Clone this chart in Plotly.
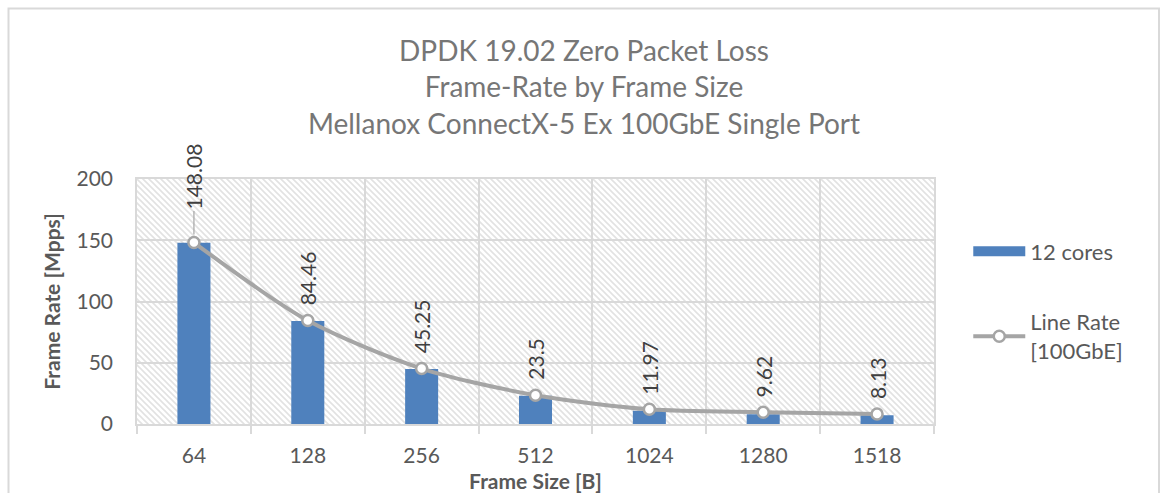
import base64
import plotly.graph_objects as go

# ---- data ----
frame_sizes = ["64", "128", "256", "512", "1024", "1280", "1518"]
cores12 = [148.0, 84.1, 44.9, 23.0, 10.9, 8.0, 7.2]
line_rate = [148.08, 84.46, 45.25, 23.5, 11.97, 9.62, 8.13]
y_ticks = [0, 50, 100, 150, 200]

title_lines = ["DPDK 19.02 Zero Packet Loss", "Frame-Rate by Frame Size",
               "Mellanox ConnectX-5 Ex 100GbE Single Port"]

FONT = "Lato"
W, H = 1160, 493
ML, MR, MT, MB = 137, 226, 179, 69
PW, PH = W - ML - MR, H - MT - MB
BLUE, GREY = "#4F81BD", "#A5A5A5"

# hatched plot-area background (svg pattern)
svg = (f'<svg xmlns="http://www.w3.org/2000/svg" width="{PW}" height="{PH}">'
       '<defs><pattern id="p" width="6" height="6" patternUnits="userSpaceOnUse">'
       '<path d="M-1,-1 L7,7 M-7,-1 L1,7 M5,-1 L13,7" stroke="#e2e2e2" stroke-width="1.6"/>'
       '</pattern></defs>'
       f'<rect width="{PW}" height="{PH}" fill="white"/>'
       f'<rect width="{PW}" height="{PH}" fill="url(#p)"/></svg>')
svg_src = "data:image/svg+xml;base64," + base64.b64encode(svg.encode()).decode()

fig = go.Figure()
fig.add_trace(go.Bar(
    x=frame_sizes, y=cores12, name="12 cores", width=0.29,
    marker=dict(color=BLUE, line=dict(width=0)),
    legendgroup="a", showlegend=False,
))
# legend proxy so the "12 cores" key is drawn as a wide block like the original
fig.add_trace(go.Scatter(
    x=[None], y=[None], name="12 cores", mode="lines",
    line=dict(color=BLUE, width=14), legendgroup="a", showlegend=True,
))
fig.add_trace(go.Scatter(
    x=frame_sizes, y=line_rate, name="Line Rate<br>[100GbE]",
    mode="lines+markers",
    line=dict(color=GREY, width=4, shape="spline", smoothing=0.8),
    marker=dict(size=11, color="white", line=dict(color=GREY, width=2.5)),
    legendgroup="b",
))

LBL = dict(family=FONT, size=21, color="#404040")
annotations = []
for i, v in enumerate(line_rate):
    txt = f"{v:g}"
    if i == 0:
        annotations.append(dict(
            x=i, y=v, text=txt, textangle=-90, showarrow=True,
            ax=0, ay=-66, arrowhead=0, arrowwidth=1.2, arrowcolor="#A6A6A6",
            standoff=8, font=LBL))
    else:
        annotations.append(dict(
            x=i, y=v, text=txt, textangle=-90, showarrow=False,
            xanchor="center", yanchor="bottom", yshift=13, font=LBL))

fig.update_layout(
    width=W, height=H, autosize=False,
    margin=dict(l=ML, r=MR, t=MT, b=MB),
    paper_bgcolor="white", plot_bgcolor="rgba(0,0,0,0)",
    font=dict(family=FONT, color="#595959"),
    title=dict(text="<br>".join(title_lines), x=584 / W, xanchor="center",
               xref="container", yref="container", y=1 - 61 / H, yanchor="top",
               font=dict(family=FONT, size=28, color="#767676")),
    showlegend=True,
    legend=dict(x=1.043, xanchor="left", y=0.79, yanchor="top",
                font=dict(family=FONT, size=22, color="#595959"),
                itemwidth=52, tracegroupgap=39, bgcolor="rgba(0,0,0,0)"),
    bargap=0.7,
    annotations=annotations,
    images=[dict(source=svg_src, xref="paper", yref="paper", x=0, y=1,
                 sizex=1, sizey=1, xanchor="left", yanchor="top",
                 sizing="stretch", layer="below")],
    shapes=[dict(type="rect", xref="paper", yref="paper",
                 x0=(8.5 - ML) / PW, x1=(1159 - ML) / PW,
                 y0=(H - MB - 505) / PH, y1=(H - MB - 8.5) / PH,
                 line=dict(color="#D9D9D9", width=2), fillcolor="rgba(0,0,0,0)",
                 layer="below")],
)

fig.update_xaxes(
    type="category", range=[-0.5, len(frame_sizes) - 0.5],
    tickson="boundaries", ticks="outside", ticklen=8,
    tickcolor="#D9D9D9", tickwidth=1.5,
    showgrid=True, gridcolor="#D9D9D9", gridwidth=1.5,
    showline=True, linecolor="#D9D9D9", linewidth=1.5, mirror=True,
    tickfont=dict(family=FONT, size=21, color="#595959"),
    ticklabelstandoff=12, automargin=False,
    title=dict(text="<b>Frame Size [B]</b>", standoff=9,
               font=dict(family=FONT, size=21, color="#595959")),
)
fig.update_yaxes(
    range=[0, 200], tickvals=y_ticks, showgrid=True, gridcolor="#D9D9D9",
    gridwidth=1.5, zeroline=False,
    showline=True, linecolor="#D9D9D9", linewidth=1.5, mirror=True,
    tickfont=dict(family=FONT, size=21, color="#595959"),
    ticklabelstandoff=18, automargin=False,
    title=dict(text="<b>Frame Rate [Mpps]</b>", standoff=10,
               font=dict(family=FONT, size=21, color="#595959")),
)

fig.write_html("out.html", config={"displayModeBar": False},
               post_script="document.body.style.margin='0';document.body.style.overflow='hidden';")
